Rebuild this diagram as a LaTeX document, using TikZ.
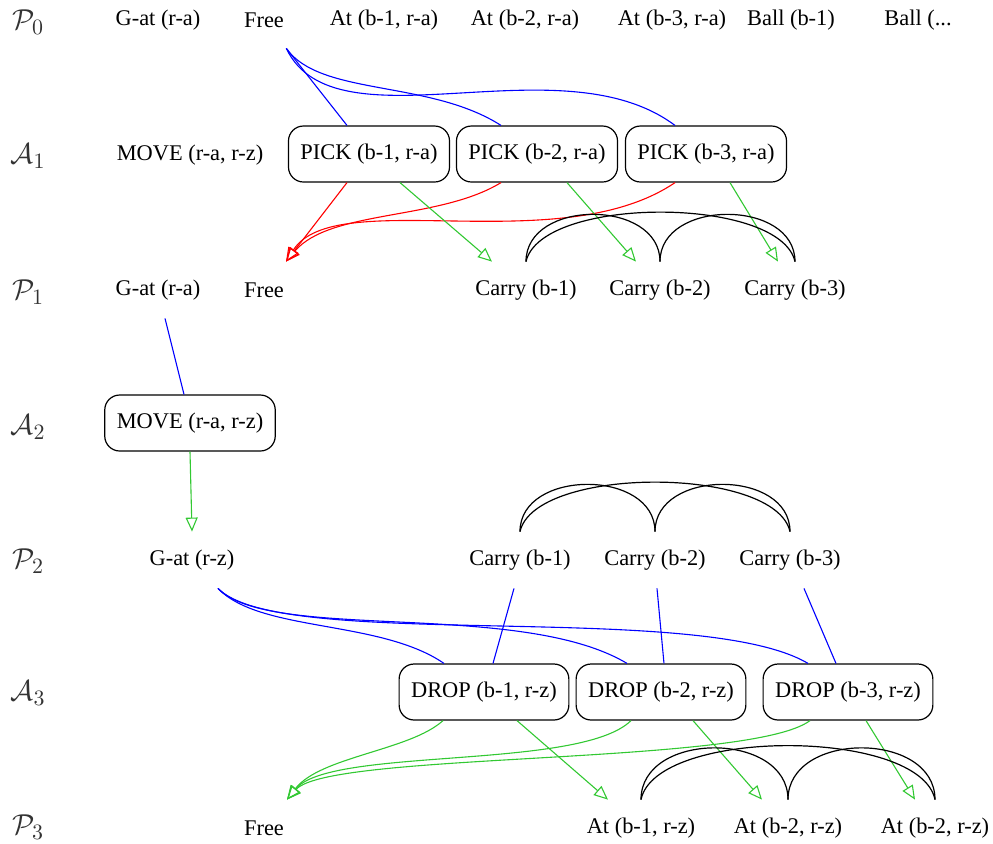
\documentclass[tikz,border=0pt]{standalone}
\usepackage[no-math]{fontspec}
\setmainfont{Liberation Serif}
\usepackage{amsmath}
\usetikzlibrary{arrows.meta}
\definecolor{verde}{RGB}{50,200,50}

\begin{document}
\begin{tikzpicture}[x=0.5pt, y=-0.5pt,
    font=\fontsize{11.2}{13}\selectfont,
    prop/.style={minimum height=28pt, inner xsep=1pt},
    acao/.style={draw, rounded corners=7.5pt, line width=0.6pt, minimum height=28pt, inner xsep=6pt},
    nivel/.style={font=\fontsize{15}{15}\selectfont, text=black!80},
    pre/.style={blue, line width=0.55pt},
    add/.style={-{Triangle[open, length=7pt, width=6pt]}, verde, line width=0.55pt},
    del/.style={-{Triangle[open, length=7pt, width=6pt]}, red, line width=0.55pt},
    mutex/.style={line width=0.6pt}
]
\useasboundingbox (0,0) rectangle (993,843);

% niveis
\node[nivel] (np0) at (28,22) {$\mathcal{P}_0$};
\node[nivel] (na1) at (28,156) {$\mathcal{A}_1$};
\node[nivel] (np1) at (28,292) {$\mathcal{P}_1$};
\node[nivel] (na2) at (28,427) {$\mathcal{A}_2$};
\node[nivel] (np2) at (28,561) {$\mathcal{P}_2$};
\node[nivel] (na3) at (28,693) {$\mathcal{A}_3$};
\node[nivel] (np3) at (28,827) {$\mathcal{P}_3$};

% P0
\node[prop] (p0gat) at (158,20) {G-at (r-a)};
\node[prop] (p0free) at (264,20) {Free};
\node[prop] (p0at1) at (384,20) {At (b-1, r-a)};
\node[prop] (p0at2) at (525,20) {At (b-2, r-a)};
\node[prop] (p0at3) at (672,20) {At (b-3, r-a)};
\node[prop] (p0ball1) at (791,20) {Ball (b-1)};
\node[prop, anchor=west] (p0ball2) at (882,20) {Ball (...};

% A1
\node[prop] (a1move) at (190,155) {MOVE (r-a, r-z)};
\node[acao] (pick1) at (369,154) {PICK (b-1, r-a)};
\node[acao] (pick2) at (537,154) {PICK (b-2, r-a)};
\node[acao] (pick3) at (706,154) {PICK (b-3, r-a)};

% P1
\node[prop] (p1gat) at (158,290) {G-at (r-a)};
\node[prop] (p1free) at (264,290) {Free};
\node[prop] (p1c1) at (526,290) {Carry (b-1)};
\node[prop] (p1c2) at (660,290) {Carry (b-2)};
\node[prop] (p1c3) at (795,290) {Carry (b-3)};

% A2
\node[acao] (a2move) at (190,423) {MOVE (r-a, r-z)};

% P2
\node[prop] (p2gat) at (192,560) {G-at (r-z)};
\node[prop] (p2c1) at (520,560) {Carry (b-1)};
\node[prop] (p2c2) at (655,560) {Carry (b-2)};
\node[prop] (p2c3) at (790,560) {Carry (b-3)};

% A3
\node[acao] (drop1) at (484,692) {DROP (b-1, r-z)};
\node[acao] (drop2) at (661,692) {DROP (b-2, r-z)};
\node[acao] (drop3) at (848,692) {DROP (b-3, r-z)};

% P3
\node[prop] (p3free) at (264,828) {Free};
\node[prop] (p3at1) at (641,828) {At (b-1, r-z)};
\node[prop] (p3at2) at (788,828) {At (b-2, r-z)};
\node[prop] (p3at3) at (935,828) {At (b-2, r-z)};

% P0 -> A1
\draw[pre] (p0free.south east) -- ([xshift=-11pt]pick1.north);
\draw[pre] (p0free.south east) .. controls +(34,48) and +(-72,-46) .. ([xshift=-18pt]pick2.north);
\draw[pre] (p0free.south east) .. controls +(49,103) and +(-115,-86) .. ([xshift=-15.5pt]pick3.north);

% A1 -> P1
\draw[del] ([xshift=-11pt]pick1.south) -- ([xshift=11pt]p1free.north);
\draw[del] ([xshift=-18pt]pick2.south) .. controls +(-62,38) and +(44,-52) .. ([xshift=11pt]p1free.north);
\draw[del] ([xshift=-15.5pt]pick3.south) .. controls +(-115,78) and +(49,-77) .. ([xshift=11pt]p1free.north);
\draw[add] ([xshift=15.5pt]pick1.south) -- ([xshift=-17pt]p1c1.north);
\draw[add] ([xshift=15pt]pick2.south) -- ([xshift=-12pt]p1c2.north);
\draw[add] ([xshift=12pt]pick3.south) -- ([xshift=-8.5pt]p1c3.north);

% mutex P1
\draw[mutex] (p1c1.north) .. controls +(0,-63) and +(0,-63) .. (p1c2.north);
\draw[mutex] (p1c2.north) .. controls +(0,-63) and +(0,-63) .. (p1c3.north);
\draw[mutex] (p1c1.north) .. controls +(15,-66) and +(-15,-66) .. (p1c3.north);

% P1 -> A2 -> P2
\draw[pre] ([xshift=3.5pt]p1gat.south) -- ([xshift=-3pt]a2move.north);
\draw[add] (a2move.south) -- (p2gat.north);

% mutex P2
\draw[mutex] (p2c1.north) .. controls +(0,-63) and +(0,-63) .. (p2c2.north);
\draw[mutex] (p2c2.north) .. controls +(0,-63) and +(0,-63) .. (p2c3.north);
\draw[mutex] (p2c1.north) .. controls +(15,-66) and +(-15,-66) .. (p2c3.north);

% P2 -> A3
\draw[pre] ([xshift=13pt]p2gat.south) .. controls +(42,44) and +(-64,-44) .. ([xshift=-20pt]drop1.north);
\draw[pre] ([xshift=13pt]p2gat.south) .. controls +(52,54) and +(-107,-64) .. ([xshift=-17pt]drop2.north);
\draw[pre] ([xshift=13pt]p2gat.south) .. controls +(62,64) and +(-108,-64) .. ([xshift=-20pt]drop3.north);
\draw[pre] ([xshift=-3pt]p2c1.south) -- ([xshift=4.5pt]drop1.north);
\draw[pre] ([xshift=1pt]p2c2.south) -- ([xshift=1.5pt]drop2.north);
\draw[pre] ([xshift=7pt]p2c3.south) -- ([xshift=-6pt]drop3.north);

% A3 -> P3
\draw[add] ([xshift=-20.5pt]drop1.south) .. controls +(-33,30) and +(33,-43) .. ([xshift=11.5pt]p3free.north);
\draw[add] ([xshift=-15pt]drop2.south) .. controls +(-51,50) and +(43,-53) .. ([xshift=11.5pt]p3free.north);
\draw[add] ([xshift=-19pt]drop3.south) .. controls +(-60,45) and +(43,-48) .. ([xshift=11.5pt]p3free.north);
\draw[add] ([xshift=16.5pt]drop1.south) -- ([xshift=-16.5pt]p3at1.north);
\draw[add] ([xshift=16pt]drop2.south) -- ([xshift=-13pt]p3at2.north);
\draw[add] ([xshift=9pt]drop3.south) -- ([xshift=-10pt]p3at3.north);

% mutex P3
\draw[mutex] (p3at1.north) .. controls +(0,-69) and +(0,-69) .. (p3at2.north);
\draw[mutex] (p3at2.north) .. controls +(0,-69) and +(0,-69) .. (p3at3.north);
\draw[mutex] (p3at1.north) .. controls +(15,-72) and +(-15,-72) .. (p3at3.north);
\end{tikzpicture}
\end{document}
